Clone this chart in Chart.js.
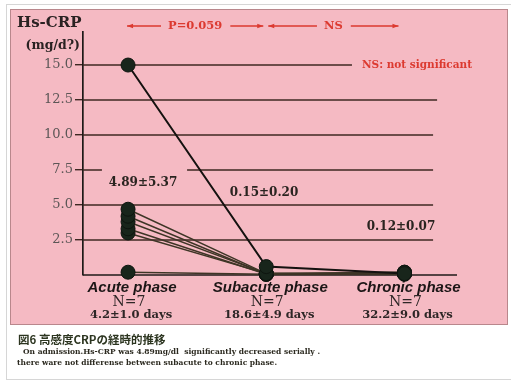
<!DOCTYPE html>
<html>
<head>
<meta charset="utf-8">
<script src="https://cdn.jsdelivr.net/npm/chart.js@4"></script>
<style>
  html, body { margin: 0; padding: 0; background: #fff; }
  #wrap { position: relative; width: 511px; height: 381px; }
  canvas { display: block; }
</style>
</head>
<body>
<div id="wrap"><canvas id="c" width="511" height="381"></canvas></div>
<script>
// Phases (x positions 1..3) and their labels
const phaseX = [1, 2, 3];
const phaseNames = ['Acute phase', 'Subacute phase', 'Chronic phase'];
const phaseN = ['N=7', 'N=7', 'N=7'];
const phaseDays = ['4.2±1.0 days', '18.6±4.9 days', '32.2±9.0 days'];
const phaseMeans = ['4.89±5.37', '0.15±0.20', '0.12±0.07'];

// Hs-CRP (mg/dl) for each of the 7 patients at each phase
const acute    = [15.0, 4.7, 4.2, 3.8, 3.3, 3.0, 0.2];
const subacute = [0.6, 0.1, 0.05, 0.1, 0.05, 0.1, 0.05];
const chronic  = [0.1, 0.2, 0.1, 0.1, 0.2, 0.05, 0.1];

// Y axis ticks
const yTicks = [0, 2.5, 5.0, 7.5, 10.0, 12.5, 15.0];

// Statistical comparisons between phases
const comparisons = [
  { from: 1, to: 2, text: 'P=0.059' },
  { from: 2, to: 3, text: 'NS' }
];

// Layout helpers (data units) for annotations
const meanLabelAt = [{ x: 1.108, y: 6.57 }, { x: 1.984, y: 5.86 }, { x: 2.975, y: 3.43 }];
// right end of each horizontal reference line (x data units), plus gaps
const gridEnds = { 2.5: 3.207, 5: 3.207, 7.5: 3.207, 10: 3.207, 12.5: 3.236, 15: 2.62 };
const gridGaps = { 7.5: [0.811, 1.427] };

const RED = '#dc3a30';
const SERIF = '"DejaVu Serif", serif';
const GRID = '#3e2822';

function txt(ctx, s, x, y, font, color, align) {
  ctx.save();
  ctx.font = font;
  ctx.fillStyle = color;
  ctx.textAlign = align || 'center';
  ctx.textBaseline = 'middle';
  ctx.fillText(s, x, y);
  ctx.restore();
}

function arrowHead(ctx, x, y, dir) {
  ctx.beginPath();
  ctx.moveTo(x, y);
  ctx.lineTo(x - dir * 6, y - 2.2);
  ctx.lineTo(x - dir * 6, y + 2.2);
  ctx.closePath();
  ctx.fill();
}

const panelPlugin = {
  id: 'panel',
  beforeDraw(chart) {
    const ctx = chart.ctx;
    ctx.save();
    ctx.fillStyle = '#ffffff';
    ctx.fillRect(0, 0, chart.width, chart.height);
    // outer page frame
    ctx.strokeStyle = '#d6d6d6';
    ctx.lineWidth = 1;
    ctx.strokeRect(6.5, 4.5, 520, 375);
    // pink panel
    ctx.fillStyle = '#f5bac3';
    ctx.fillRect(10, 9, 498, 316);
    ctx.strokeStyle = '#b9878c';
    ctx.strokeRect(10.5, 9.5, 497, 315);
    ctx.restore();
  },
  beforeDatasetsDraw(chart) {
    const ctx = chart.ctx;
    const xs = chart.scales.x, ys = chart.scales.y;
    const left = chart.chartArea.left;
    ctx.save();
    ctx.strokeStyle = GRID;
    ctx.lineWidth = 1.4;
    yTicks.forEach(v => {
      if (!(v in gridEnds)) return;
      const py = ys.getPixelForValue(v);
      const end = xs.getPixelForValue(gridEnds[v]);
      ctx.beginPath();
      if (gridGaps[v]) {
        ctx.moveTo(left, py); ctx.lineTo(xs.getPixelForValue(gridGaps[v][0]), py);
        ctx.moveTo(xs.getPixelForValue(gridGaps[v][1]), py); ctx.lineTo(end, py);
      } else {
        ctx.moveTo(left, py); ctx.lineTo(end, py);
      }
      ctx.stroke();
    });
    // x axis line
    const y0 = ys.getPixelForValue(0);
    ctx.strokeStyle = '#1e1a18';
    ctx.lineWidth = 1.7;
    ctx.beginPath();
    ctx.moveTo(left, y0);
    ctx.lineTo(chart.chartArea.right, y0);
    ctx.stroke();
    ctx.restore();
  },
  afterDraw(chart) {
    const ctx = chart.ctx;
    const xs = chart.scales.x, ys = chart.scales.y;

    // axis title
    txt(ctx, 'Hs-CRP', 17, 23, 'bold 15px ' + SERIF, '#2a2222', 'left');
    txt(ctx, '(mg/d?)', 80, 46, 'bold 12.5px ' + SERIF, '#2a2222', 'right');

    // comparison arrows
    ctx.save();
    ctx.strokeStyle = RED;
    ctx.fillStyle = RED;
    ctx.lineWidth = 1.3;
    const ay = 26;
    comparisons.forEach((c, i) => {
      const x1 = xs.getPixelForValue(c.from) + (i === 0 ? -1 : 2);
      const x2 = xs.getPixelForValue(c.to) - (i === 0 ? 3 : 6);
      const mid = (x1 + x2) / 2;
      ctx.font = 'bold 11.5px ' + SERIF;
      const w = ctx.measureText(c.text).width;
      ctx.beginPath();
      ctx.moveTo(x1, ay); ctx.lineTo(mid - w / 2 - 7, ay);
      ctx.moveTo(mid + w / 2 + 8, ay); ctx.lineTo(x2, ay);
      ctx.stroke();
      arrowHead(ctx, x1, ay, -1);
      arrowHead(ctx, x2, ay, 1);
      txt(ctx, c.text, mid, ay, 'bold 11.5px ' + SERIF, RED);
    });
    ctx.restore();
    txt(ctx, 'NS: not significant', 362, 65, 'bold 10.5px ' + SERIF, RED, 'left');

    // mean ± SD labels
    phaseMeans.forEach((s, i) => {
      txt(ctx, s, xs.getPixelForValue(meanLabelAt[i].x), ys.getPixelForValue(meanLabelAt[i].y),
          'bold 12px ' + SERIF, '#2a2420');
    });

    // phase labels under the axis
    phaseX.forEach((v, i) => {
      const px = xs.getPixelForValue(v);
      txt(ctx, phaseNames[i], px + 4, 288, 'italic bold 15px "Liberation Sans", Arial, sans-serif', '#1c1616');
      txt(ctx, phaseN[i], px + 1, 302, '14px ' + SERIF, '#2e2626');
      txt(ctx, phaseDays[i], px + 3, 315.5, 'bold 11.5px ' + SERIF, '#2e2626');
    });

    // figure caption
    txt(ctx, '図6 高感度CRPの経時的推移', 18, 340, 'bold 11.5px "Noto Sans CJK JP", sans-serif', '#2c3520', 'left');
    ctx.save();
    ctx.font = 'bold 8px ' + SERIF;
    ctx.fillStyle = '#2c2a20';
    ctx.textBaseline = 'middle';
    ctx.fillText('On admission.Hs-CRP was 4.89mg/dl  significantly decreased serially .', 23, 352, 297);
    ctx.fillText('there ware not differense between subacute to chronic phase.', 17, 363, 260);
    ctx.restore();
  }
};

const series = [acute, subacute, chronic];
const datasets = acute.map((_, i) => ({
  label: 'Patient ' + (i + 1),
  data: phaseX.map((x, j) => ({ x, y: series[j][i] })),
  borderColor: i === 0 ? '#151210' : '#3e3526',
  borderWidth: i === 0 ? 2 : 1.5,
  pointRadius: 7,
  pointHoverRadius: 7,
  pointBackgroundColor: '#18251b',
  pointBorderColor: '#0e150f',
  pointBorderWidth: 1,
  tension: 0,
  clip: false
}));

new Chart(document.getElementById('c'), {
  type: 'line',
  data: { datasets },
  options: {
    responsive: false,
    animation: false,
    events: [],
    layout: { padding: { left: 0, top: 32, right: 54, bottom: 106 } },
    plugins: { legend: { display: false }, title: { display: false }, tooltip: { enabled: false } },
    scales: {
      x: { type: 'linear', min: 0.674, max: 3.38, display: false },
      y: {
        type: 'linear',
        min: 0,
        max: 17.36,
        afterBuildTicks: s => { s.ticks = yTicks.map(v => ({ value: v })); },
        afterFit: s => { s.width = 83; },
        ticks: {
          callback: v => (v === 0 ? '' : v.toFixed(1)),
          font: { family: 'DejaVu Serif', size: 13 },
          color: '#5c5656',
          padding: 2
        },
        grid: {
          drawOnChartArea: false,
          drawTicks: true,
          tickLength: 8,
          lineWidth: 1.4,
          color: c => (c.tick && c.tick.value === 0 ? 'rgba(0,0,0,0)' : GRID)
        },
        border: { display: true, color: '#1e1a18', width: 1.7 }
      }
    }
  },
  plugins: [panelPlugin]
});
</script>
</body>
</html>
